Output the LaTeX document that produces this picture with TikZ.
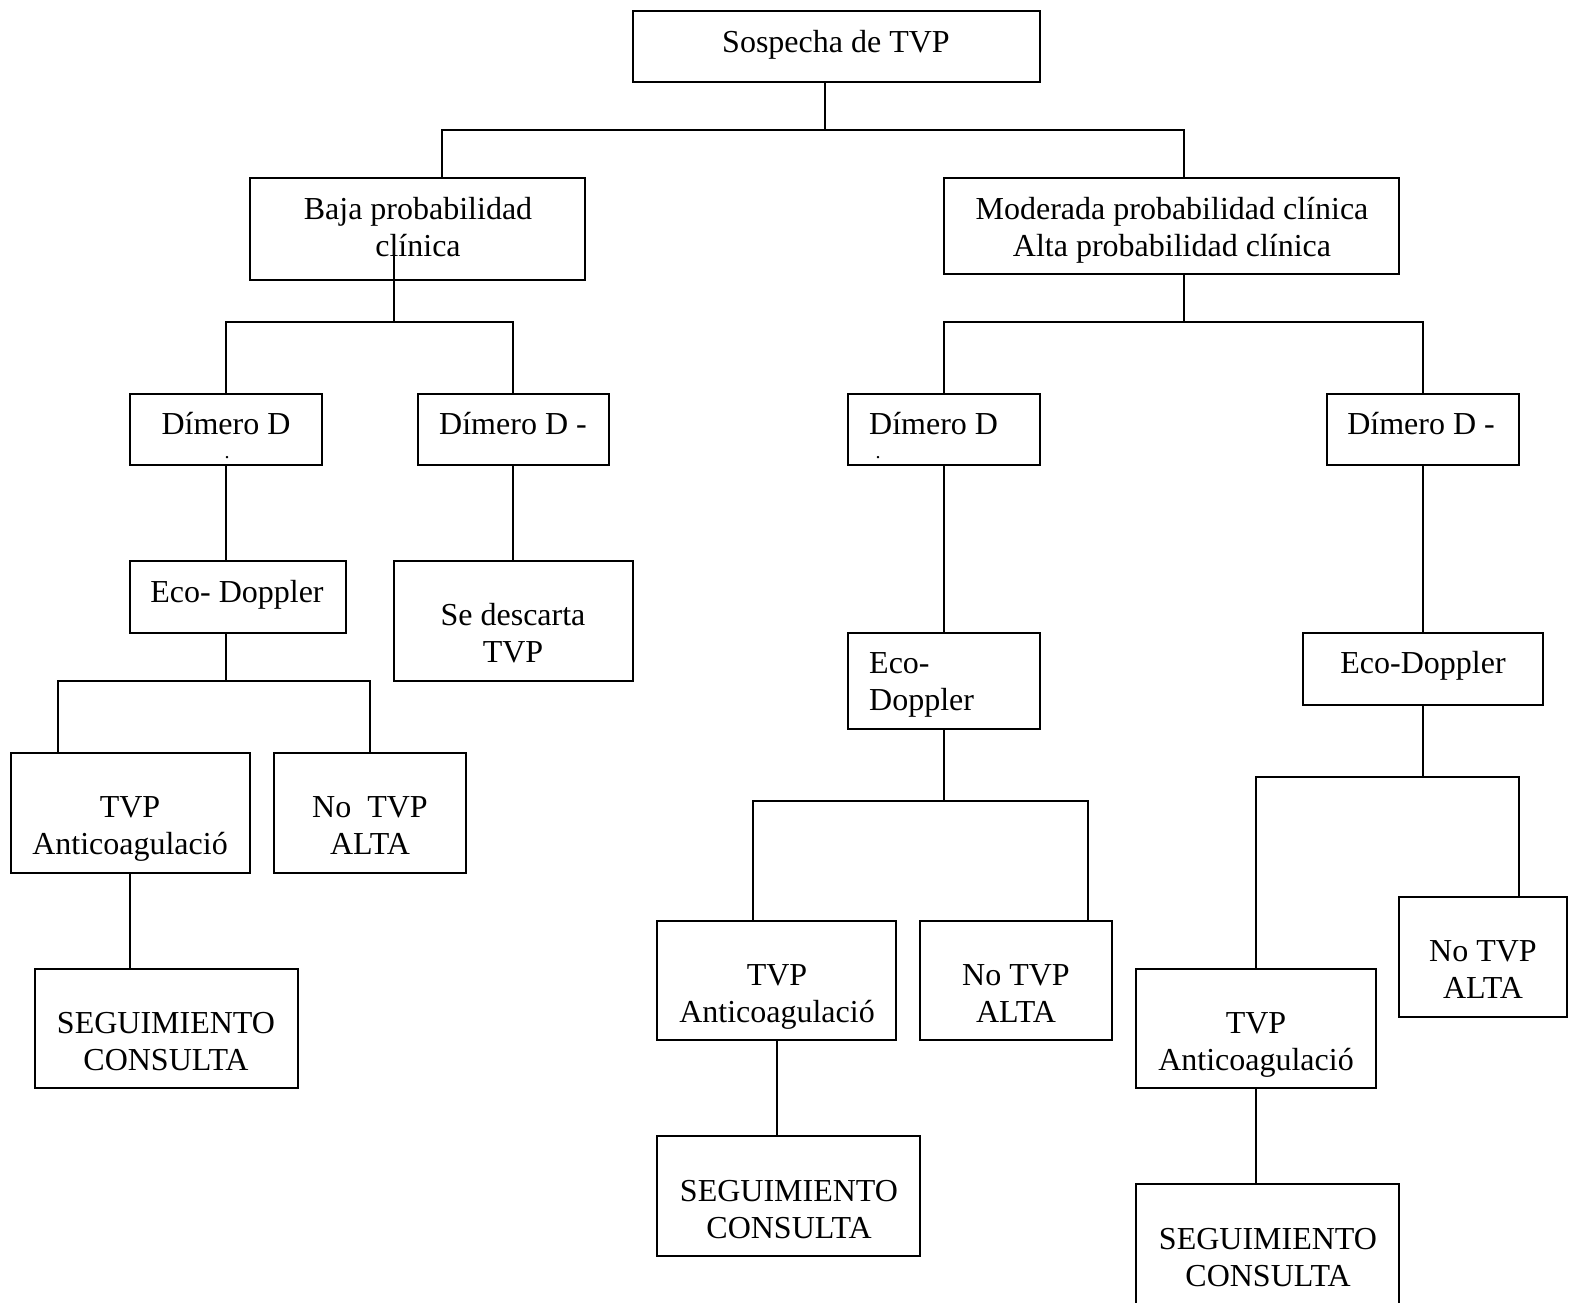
\documentclass[tikz,border=0pt]{standalone}
\usepackage{fontspec}
\setmainfont{Liberation Serif}
\usetikzlibrary{calc}

% box from its corners: name, x1, y1, x2, y2
\newcommand\mkbox[5]{%
  \node[box, minimum width={#4-#2}, minimum height={#5-#3}] (#1)
    at ({(#2+#4)/2},{(#3+#5)/2}) {};}

\begin{document}
\begin{tikzpicture}[x=1pt, y=-1pt,
  box/.style={draw, line width=2pt, inner sep=0pt},
  txt/.style={font=\fontsize{32}{37}\selectfont, inner sep=0pt, anchor=base},
  txtl/.style={txt, anchor=base west},
  dotmark/.style={font=\fontsize{20}{20}\selectfont, inner sep=0pt, anchor=base},
  link/.style={line width=2pt}]

\clip (0,0) rectangle (1572,1303);
\fill[white] (0,0) rectangle (1572,1303);

% ---------- boxes ----------
\mkbox{b1}{633}{11}{1040}{82}
\mkbox{b2}{250}{178}{585}{280}
\mkbox{b3}{944}{178}{1399}{274}
\mkbox{b4}{130}{394}{322}{465}
\mkbox{b5}{418}{394}{609}{465}
\mkbox{b6}{848}{394}{1040}{465}
\mkbox{b7}{1327}{394}{1519}{465}
\mkbox{b8}{130}{561}{346}{633}
\mkbox{b9}{394}{561}{633}{681}
\mkbox{b10}{11}{753}{250}{873}
\mkbox{b11}{274}{753}{466}{873}
\mkbox{b12}{35}{969}{298}{1088}
\mkbox{b13}{848}{633}{1040}{729}
\mkbox{b14}{1303}{633}{1543}{705}
\mkbox{b15}{657}{921}{896}{1040}
\mkbox{b16}{920}{921}{1112}{1040}
\mkbox{b17}{657}{1136}{920}{1256}
\mkbox{b18}{1399}{897}{1567}{1017}
\mkbox{b19}{1136}{969}{1376}{1088}
\mkbox{b20}{1136}{1184}{1399}{1330}

% ---------- texts ----------
\node[txt] (t1) at (836,53) {Sospecha de TVP};
\node[txt] (t2) at (418,219) {\begin{tabular}[t]{@{}c@{}}Baja probabilidad\\clínica\end{tabular}};
\node[txt] (t3) at (1172,219) {\begin{tabular}[t]{@{}c@{}}Moderada probabilidad clínica\\Alta probabilidad clínica\end{tabular}};
\node[txt] (t4) at (226,434) {Dímero D};
\node[dotmark] (t4d) at (227,458) {.};
\node[txt] (t5) at (513,434) {Dímero D -};
\node[txtl] (t6) at (869,434) {Dímero D};
\node[dotmark] (t6d) at (878,458) {.};
\node[txt] (t7) at (1421,434) {Dímero D -};
\node[txt] (t8) at (237,602) {Eco- Doppler};
\node[txt] (t9) at (513,625) {\begin{tabular}[t]{@{}c@{}}Se descarta\\TVP\end{tabular}};
\node[txt] (t10) at (130,817) {\begin{tabular}[t]{@{}c@{}}TVP\\Anticoagulació\end{tabular}};
\node[txt] (t11) at (370,817) {\begin{tabular}[t]{@{}c@{}}No\ \ TVP\\ALTA\end{tabular}};
\node[txt] (t12) at (166,1033) {\begin{tabular}[t]{@{}c@{}}SEGUIMIENTO\\CONSULTA\end{tabular}};
\node[txtl] (t13) at (869,673) {\begin{tabular}[t]{@{}l@{}}Eco-\\Doppler\end{tabular}};
\node[txt] (t14) at (1423,673) {Eco-Doppler};
\node[txt] (t15) at (777,985) {\begin{tabular}[t]{@{}c@{}}TVP\\Anticoagulació\end{tabular}};
\node[txt] (t16) at (1016,985) {\begin{tabular}[t]{@{}c@{}}No TVP\\ALTA\end{tabular}};
\node[txt] (t17) at (789,1201) {\begin{tabular}[t]{@{}c@{}}SEGUIMIENTO\\CONSULTA\end{tabular}};
\node[txt] (t18) at (1483,961) {\begin{tabular}[t]{@{}c@{}}No TVP\\ALTA\end{tabular}};
\node[txt] (t19) at (1256,1033) {\begin{tabular}[t]{@{}c@{}}TVP\\Anticoagulació\end{tabular}};
\node[txt] (t20) at (1268,1249) {\begin{tabular}[t]{@{}c@{}}SEGUIMIENTO\\CONSULTA\end{tabular}};

% ---------- junction points ----------
\coordinate (j1) at (825,130);
\coordinate (j1l) at (442,130);
\coordinate (j1r) at (1184,130);
\coordinate (j2top) at (394,255);
\coordinate (j2) at (394,322);
\coordinate (j2l) at (226,322);
\coordinate (j2r) at (513,322);
\coordinate (j3) at (1184,322);
\coordinate (j3l) at (944,322);
\coordinate (j3r) at (1423,322);
\coordinate (j4) at (226,681);
\coordinate (j4l) at (58,681);
\coordinate (j4r) at (370,681);
\coordinate (j5) at (944,801);
\coordinate (j5l) at (753,801);
\coordinate (j5r) at (1088,801);
\coordinate (j6) at (1423,777);
\coordinate (j6l) at (1256,777);
\coordinate (j6r) at (1519,777);
\coordinate (k10) at (130,0);
\coordinate (k15) at (777,0);
\coordinate (k19) at (1256,0);

% ---------- connectors ----------
\draw[link] (b1.south -| j1) -- (j1);
\draw[link] (b2.north -| j1l) -- (j1l) -- (j1r) -- (b3.north -| j1r);

\draw[link] (j2top) -- (j2);
\draw[link] (b4.north -| j2l) -- (j2l) -- (j2r) -- (b5.north -| j2r);

\draw[link] (b3.south -| j3) -- (j3);
\draw[link] (b6.north -| j3l) -- (j3l) -- (j3r) -- (b7.north -| j3r);

\draw[link] (b4.south -| j2l) -- (b8.north -| j2l);
\draw[link] (b5.south -| j2r) -- (b9.north -| j2r);

\draw[link] (b8.south -| j4) -- (j4);
\draw[link] (b10.north -| j4l) -- (j4l) -- (j4r) -- (b11.north -| j4r);
\draw[link] (b10.south -| k10) -- (b12.north -| k10);

\draw[link] (b6.south -| j3l) -- (b13.north -| j3l);
\draw[link] (b7.south -| j3r) -- (b14.north -| j3r);

\draw[link] (b13.south -| j5) -- (j5);
\draw[link] (b15.north -| j5l) -- (j5l) -- (j5r) -- (b16.north -| j5r);
\draw[link] (b15.south -| k15) -- (b17.north -| k15);

\draw[link] (b14.south -| j6) -- (j6);
\draw[link] (b19.north -| j6l) -- (j6l) -- (j6r) -- (b18.north -| j6r);
\draw[link] (b19.south -| k19) -- (b20.north -| k19);

\end{tikzpicture}
\end{document}
